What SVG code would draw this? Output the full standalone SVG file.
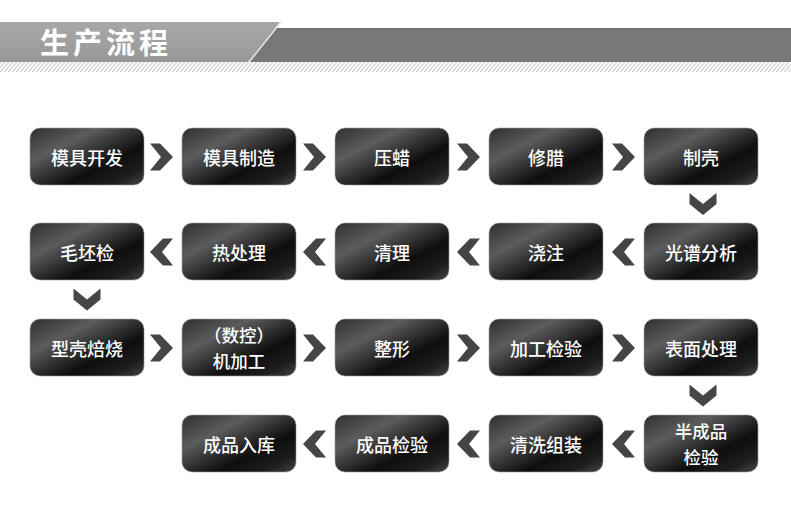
<svg xmlns="http://www.w3.org/2000/svg" width="791" height="514" viewBox="0 0 791 514">
<defs>
<linearGradient id="ng" x1="0" y1="0" x2="1" y2="1">
<stop offset="0" stop-color="#303030"/>
<stop offset="0.3" stop-color="#5c5c5c"/>
<stop offset="0.45" stop-color="#3a3a3a"/>
<stop offset="0.65" stop-color="#0e0e0e"/>
<stop offset="0.85" stop-color="#1e1e1e"/>
<stop offset="1" stop-color="#474747"/>
</linearGradient>
<linearGradient id="lg" x1="0" y1="0" x2="0" y2="1">
<stop offset="0" stop-color="#a8a8a8"/>
<stop offset="1" stop-color="#989898"/>
</linearGradient>
<pattern id="hatch" width="4" height="10" patternUnits="userSpaceOnUse" patternTransform="skewX(-40)">
<rect width="4" height="10" fill="#ffffff"/>
<rect width="1.4" height="10" fill="#c9c9c9"/>
</pattern>
<polygon id="ar" points="0,-13.5 10,-13.5 23,0 10,13.5 0,13.5 11,0" fill="#454545"/>
<polygon id="al" points="23,-13.5 13,-13.5 0,0 13,13.5 23,13.5 12,0" fill="#454545"/>
<polygon id="ad" points="-13.5,-11 0,0 13.5,-11 13.5,0 0,11 -13.5,0" fill="#454545"/>
</defs>
<style>
.n{fill:url(#ng);stroke:#9a9a9a;stroke-width:0.6}
.t{fill:#ffffff;font-family:"Noto Sans CJK SC","Noto Sans",sans-serif;font-size:18px;font-weight:500;text-anchor:middle;dominant-baseline:central}
.t2{font-size:17.5px}
.h{fill:#ffffff;font-family:"Noto Sans CJK SC","Noto Sans",sans-serif;font-size:29px;font-weight:bold;letter-spacing:4px}
</style>
<rect width="791" height="514" fill="#ffffff"/>
<g id="header">
<rect x="250" y="28" width="541" height="34" fill="#787878"/>
<rect x="250" y="28" width="541" height="1.2" fill="#6a6a6a"/>
<polygon points="0,22 280,22 248,62 0,62" fill="url(#lg)"/>
<line x1="281" y1="22" x2="249" y2="62" stroke="#e8e8e8" stroke-width="1.5"/>
<rect x="0" y="62" width="791" height="10" fill="url(#hatch)"/>
<text class="h" x="40" y="54">生产流程</text>
</g>
<g id="connectors">
<use href="#ar" x="150" y="157"/>
<use href="#ar" x="303" y="157"/>
<use href="#ar" x="457" y="157"/>
<use href="#ar" x="612" y="157"/>
<use href="#ad" x="703" y="204"/>
<use href="#al" x="150" y="252"/>
<use href="#al" x="303" y="252"/>
<use href="#al" x="457" y="252"/>
<use href="#al" x="612" y="252"/>
<use href="#ad" x="87" y="299.5"/>
<use href="#ar" x="150" y="348"/>
<use href="#ar" x="303" y="348"/>
<use href="#ar" x="457" y="348"/>
<use href="#ar" x="612" y="348"/>
<use href="#ad" x="703" y="395.5"/>
<use href="#al" x="303" y="444"/>
<use href="#al" x="457" y="444"/>
<use href="#al" x="612" y="444"/>
</g>
<g id="n1"><rect class="n" x="30" y="128" width="114" height="57" rx="10"/><text class="t" x="87" y="156.5">模具开发</text></g>
<g id="n2"><rect class="n" x="182" y="128" width="114" height="57" rx="10"/><text class="t" x="239" y="156.5">模具制造</text></g>
<g id="n3"><rect class="n" x="335" y="128" width="114" height="57" rx="10"/><text class="t" x="392" y="156.5">压蜡</text></g>
<g id="n4"><rect class="n" x="489" y="128" width="114" height="57" rx="10"/><text class="t" x="546" y="156.5">修腊</text></g>
<g id="n5"><rect class="n" x="644" y="128" width="114" height="57" rx="10"/><text class="t" x="701" y="156.5">制壳</text></g>
<g id="n6"><rect class="n" x="644" y="223" width="114" height="57" rx="10"/><text class="t" x="701" y="251.5">光谱分析</text></g>
<g id="n7"><rect class="n" x="489" y="223" width="114" height="57" rx="10"/><text class="t" x="546" y="251.5">浇注</text></g>
<g id="n8"><rect class="n" x="335" y="223" width="114" height="57" rx="10"/><text class="t" x="392" y="251.5">清理</text></g>
<g id="n9"><rect class="n" x="182" y="223" width="114" height="57" rx="10"/><text class="t" x="239" y="251.5">热处理</text></g>
<g id="n10"><rect class="n" x="30" y="223" width="114" height="57" rx="10"/><text class="t" x="87" y="251.5">毛坯检</text></g>
<g id="n11"><rect class="n" x="30" y="319" width="114" height="57" rx="10"/><text class="t" x="87" y="347.5">型壳焙烧</text></g>
<g id="n12"><rect class="n" x="182" y="319" width="114" height="57" rx="10"/><text class="t t2" x="239" y="334.75">（数控）<tspan x="239" dy="25.5">机加工</tspan></text></g>
<g id="n13"><rect class="n" x="335" y="319" width="114" height="57" rx="10"/><text class="t" x="392" y="347.5">整形</text></g>
<g id="n14"><rect class="n" x="489" y="319" width="114" height="57" rx="10"/><text class="t" x="546" y="347.5">加工检验</text></g>
<g id="n15"><rect class="n" x="644" y="319" width="114" height="57" rx="10"/><text class="t" x="701" y="347.5">表面处理</text></g>
<g id="n16"><rect class="n" x="644" y="415" width="114" height="57" rx="10"/><text class="t t2" x="701" y="430.75">半成品<tspan x="701" dy="25.5">检验</tspan></text></g>
<g id="n17"><rect class="n" x="489" y="415" width="114" height="57" rx="10"/><text class="t" x="546" y="443.5">清洗组装</text></g>
<g id="n18"><rect class="n" x="335" y="415" width="114" height="57" rx="10"/><text class="t" x="392" y="443.5">成品检验</text></g>
<g id="n19"><rect class="n" x="182" y="415" width="114" height="57" rx="10"/><text class="t" x="239" y="443.5">成品入库</text></g>
</svg>
